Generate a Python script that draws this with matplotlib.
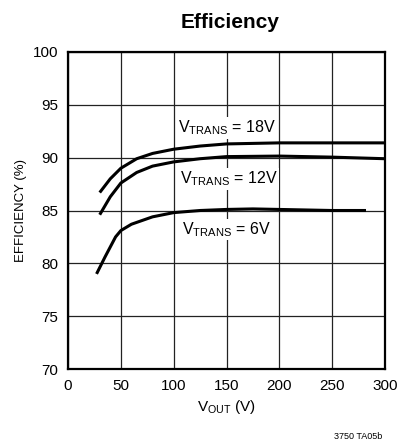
import matplotlib.pyplot as plt
import numpy as np

plt.rcParams['font.family'] = ['Liberation Sans', 'DejaVu Sans']
plt.rcParams['mathtext.default'] = 'regular'

vout_18 = [30, 40, 50, 65, 80, 100, 125, 150, 200, 250, 300]
eff_18 = [86.7, 88.0, 89.0, 89.9, 90.4, 90.8, 91.1, 91.3, 91.4, 91.4, 91.4]

vout_12 = [30, 40, 50, 65, 80, 100, 125, 150, 200, 250, 300]
eff_12 = [84.6, 86.3, 87.6, 88.6, 89.2, 89.6, 89.9, 90.1, 90.15, 90.05, 89.9]

vout_6 = [27, 35, 45, 50, 60, 80, 100, 125, 150, 175, 200, 250, 282]
eff_6 = [79.0, 80.6, 82.5, 83.1, 83.7, 84.4, 84.8, 85.0, 85.1, 85.15, 85.1, 85.0, 85.0]

labels = ['18V', '12V', '6V']
label_pos = [(150, 92.8), (152, 88.0), (150, 83.2)]

fig = plt.figure(figsize=(3.98, 4.44), dpi=100)
ax = fig.add_axes([0.1709, 0.1689, 0.7965, 0.714])

for x, y in [(vout_18, eff_18), (vout_12, eff_12), (vout_6, eff_6)]:
    ax.plot(x, y, color='black', linewidth=2.2, zorder=4, solid_capstyle='butt')

for lab, (px, py) in zip(labels, label_pos):
    ax.text(px, py, 'V$_{TRANS}$ = ' + lab, fontsize=11.5, ha='center', va='center',
            zorder=3, bbox=dict(facecolor='white', edgecolor='none', pad=1.0))

ax.set_xlim(0, 300)
ax.set_ylim(70, 100)
ax.set_xticks(np.arange(0, 301, 50))
ax.set_yticks(np.arange(70, 101, 5))
ax.grid(True, color='#222222', linewidth=0.9, zorder=1)
ax.set_axisbelow(True)
ax.tick_params(length=0, labelsize=11, pad=7)
for s in ax.spines.values():
    s.set_linewidth(1.6)

ax.set_xlabel('V$_{OUT}$ (V)', fontsize=11, labelpad=4)
ax.set_ylabel('EFFICIENCY (%)', fontsize=9.5, labelpad=4)
fig.text(0.578, 0.95, 'Efficiency', fontsize=15, fontweight='bold', ha='center', va='center')
fig.text(0.9, 0.016, '3750 TA05b', fontsize=6.5, ha='center', va='center')

fig.savefig('out.png', dpi=100)
